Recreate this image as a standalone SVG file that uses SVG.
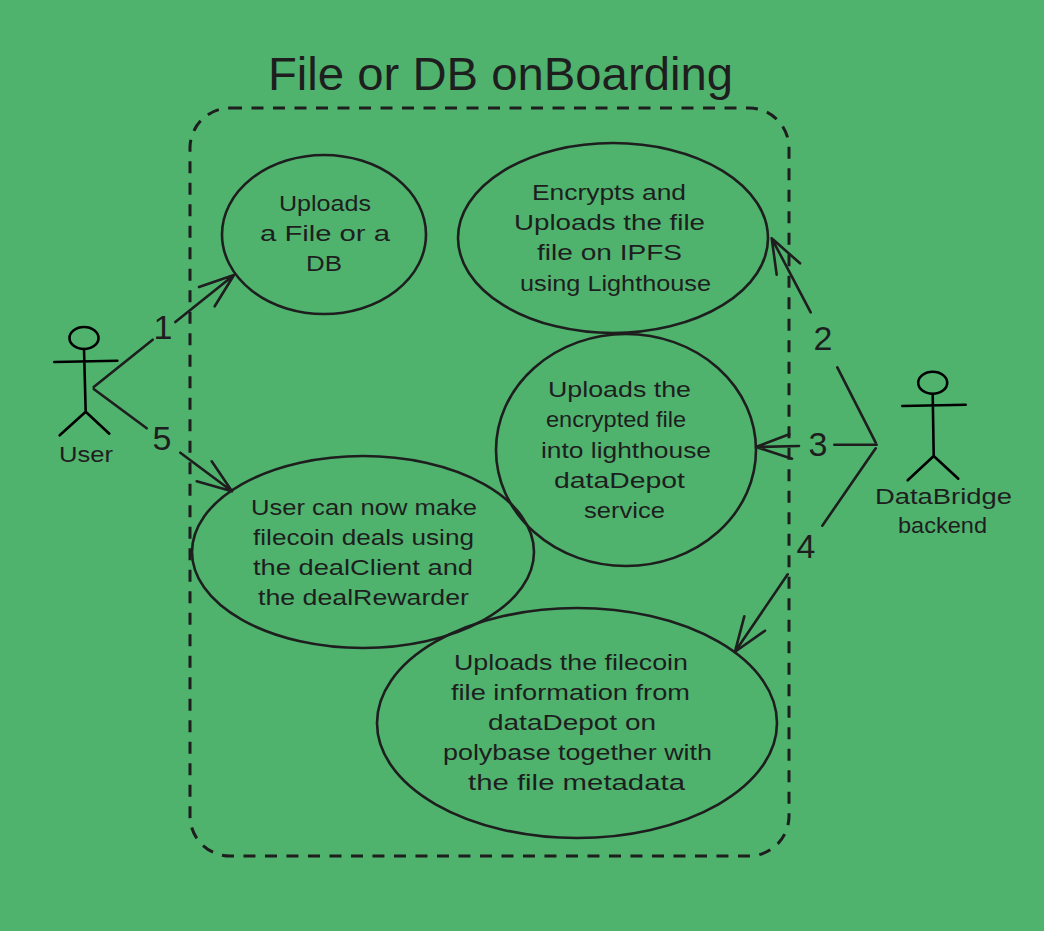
<svg xmlns="http://www.w3.org/2000/svg" width="1044" height="931" viewBox="0 0 1044 931">
<style>
.s{fill:none;stroke:#1e1e1e;stroke-width:2.6;stroke-linecap:round;stroke-linejoin:round}
.a{fill:none;stroke:#000;stroke-width:2.6;stroke-linecap:round;stroke-linejoin:round}
.d{stroke-width:3;stroke-dasharray:12 9.5;stroke-linecap:butt}
text{font-family:"Liberation Sans",Arial,sans-serif;font-size:22px;fill:#1e1e1e}
.l{font-size:34px}
.t{font-size:46px}
</style>
<rect width="1044" height="931" fill="#4fb36e"/>
<g id="boundary">
<rect class="s d" x="190" y="108" width="599" height="748" rx="40" ry="40"/>
<text class="t" x="268" y="90" textLength="465" lengthAdjust="spacingAndGlyphs">File or DB onBoarding</text>
</g>
<g id="connectors">
<path class="s" d="M93.7 387L152.7 339.7M175.3 322L234 275M199 287L234 275L214.7 306.3"/>
<path class="s" d="M93.7 389L146.7 428.3M180.3 452.7L232 491.3M211.7 461.3L232 491.3L196.7 481.3"/>
<path class="s" d="M875.7 442.7L837.3 367.3M810.7 312.3L771.7 238.3M776.7 274.7L771.7 238.3L800 263.3"/>
<path class="s" d="M876.7 444.7L834.3 444.7M799 446L756 447M789.3 434.3L756 447L792 458.7"/>
<path class="s" d="M875.7 448.3L822.3 525.7M787.7 574.3L735 651.7M744.3 616.3L735 651.7L765 630.7"/>
<text class="l" x="163" y="339" text-anchor="middle">1</text>
<text class="l" x="162" y="450" text-anchor="middle">5</text>
<text class="l" x="823" y="350" text-anchor="middle">2</text>
<text class="l" x="818" y="456" text-anchor="middle">3</text>
<text class="l" x="806" y="558" text-anchor="middle">4</text>
</g>
<g id="actor-user">
<ellipse class="a" cx="84" cy="338" rx="14.5" ry="11"/>
<path class="a" d="M54.3 362L117.3 360.7M84 349L85.7 411.7M59.7 435.3L85.7 411.7L109.3 433.7"/>
<text x="59" y="462" textLength="54" lengthAdjust="spacingAndGlyphs">User</text>
</g>
<g id="actor-databridge">
<ellipse class="a" cx="932.7" cy="382.7" rx="14.5" ry="11"/>
<path class="a" d="M902.3 406L965.7 404.7M932.7 394L933.7 456M907.7 480.3L933.7 456L958.3 478.7"/>
<text x="875" y="504" textLength="137" lengthAdjust="spacingAndGlyphs">DataBridge</text>
<text x="898" y="533" textLength="89" lengthAdjust="spacingAndGlyphs">backend</text>
</g>
<g id="uc-upload">
<ellipse class="s" cx="324" cy="234.5" rx="102" ry="79.5"/>
<text x="279" y="211" textLength="92" lengthAdjust="spacingAndGlyphs">Uploads</text>
<text x="260" y="241" textLength="130" lengthAdjust="spacingAndGlyphs">a File or a</text>
<text x="306" y="271" textLength="36" lengthAdjust="spacingAndGlyphs">DB</text>
</g>
<g id="uc-encrypt">
<ellipse class="s" cx="613" cy="238" rx="155" ry="95"/>
<text x="532" y="200" textLength="154" lengthAdjust="spacingAndGlyphs">Encrypts and</text>
<text x="514" y="230" textLength="191" lengthAdjust="spacingAndGlyphs">Uploads the file</text>
<text x="537" y="260" textLength="145" lengthAdjust="spacingAndGlyphs">file on IPFS</text>
<text x="520" y="291" textLength="191" lengthAdjust="spacingAndGlyphs">using Lighthouse</text>
</g>
<g id="uc-datadepot">
<ellipse class="s" cx="626" cy="450" rx="130" ry="116"/>
<text x="548" y="397" textLength="143" lengthAdjust="spacingAndGlyphs">Uploads the</text>
<text x="546" y="427" textLength="140" lengthAdjust="spacingAndGlyphs">encrypted file</text>
<text x="541" y="458" textLength="170" lengthAdjust="spacingAndGlyphs">into lighthouse</text>
<text x="554" y="488" textLength="131" lengthAdjust="spacingAndGlyphs">dataDepot</text>
<text x="584" y="518" textLength="81" lengthAdjust="spacingAndGlyphs">service</text>
</g>
<g id="uc-deals">
<ellipse class="s" cx="363" cy="552" rx="171" ry="96"/>
<text x="251" y="515" textLength="226" lengthAdjust="spacingAndGlyphs">User can now make</text>
<text x="253" y="545" textLength="221" lengthAdjust="spacingAndGlyphs">filecoin deals using</text>
<text x="253" y="575" textLength="220" lengthAdjust="spacingAndGlyphs">the dealClient and</text>
<text x="258" y="605" textLength="211" lengthAdjust="spacingAndGlyphs">the dealRewarder</text>
</g>
<g id="uc-polybase">
<ellipse class="s" cx="577" cy="723" rx="200" ry="115"/>
<text x="454" y="670" textLength="234" lengthAdjust="spacingAndGlyphs">Uploads the filecoin</text>
<text x="451" y="700" textLength="239" lengthAdjust="spacingAndGlyphs">file information from</text>
<text x="488" y="730" textLength="168" lengthAdjust="spacingAndGlyphs">dataDepot on</text>
<text x="443" y="760" textLength="269" lengthAdjust="spacingAndGlyphs">polybase together with</text>
<text x="468" y="790" textLength="217" lengthAdjust="spacingAndGlyphs">the file metadata</text>
</g>
</svg>
